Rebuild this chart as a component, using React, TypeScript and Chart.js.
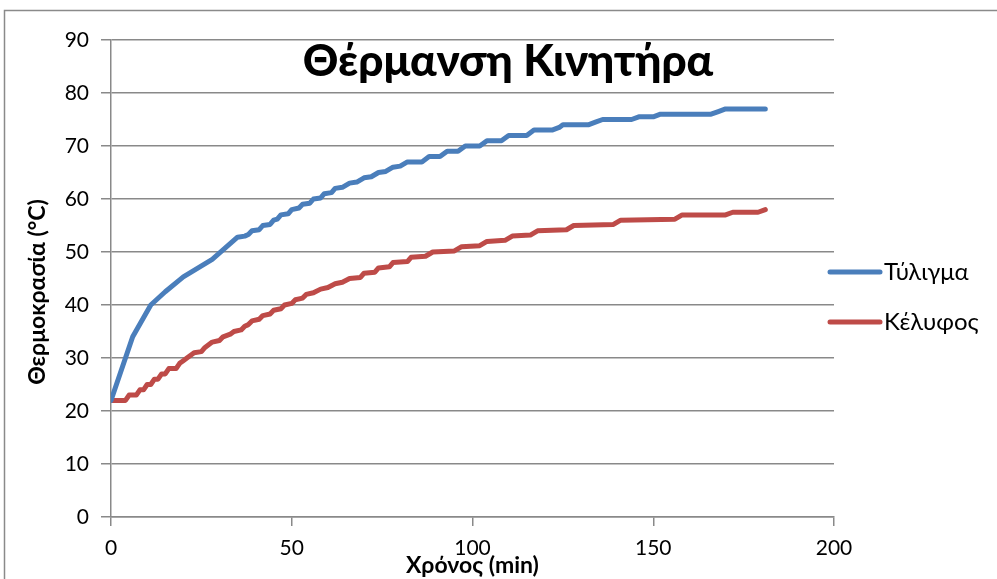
import { useEffect, useRef } from "react";
import { Chart, registerables } from "chart.js";

Chart.register(...registerables);

const CHART_TITLE = "Θέρμανση Κινητήρα";
const X_TITLE = "Χρόνος (min)";
const Y_TITLE = "Θερμοκρασία (°C)";
const SERIES_NAMES = ["Τύλιγμα", "Κέλυφος"];
const SERIES_COLORS = ["#4a7ebb", "#be4b48"];

const X_MIN = 0;
const X_MAX = 200;
const X_STEP = 50;
const Y_MIN = 0;
const Y_MAX = 90;
const Y_STEP = 10;

// Τύλιγμα (winding)
const WINDING_TIME = [
  0, 6, 11, 15, 20, 28, 35, 37, 38, 39, 41, 42, 44, 45, 46, 47, 49, 50, 52, 53,
  55, 56, 58, 59, 61, 62, 64, 66, 68, 70, 72, 74, 76, 78, 80, 82, 86, 88, 91, 93,
  96, 98, 102, 104, 108, 110, 115, 117, 122, 124, 125, 132, 134, 136, 144, 146,
  150, 152, 166, 168, 170, 181,
];
const WINDING_TEMP = [
  22, 34, 40, 42.5, 45.3, 48.6, 52.8, 53, 53.3, 54, 54.2, 55, 55.2, 56, 56.2, 57,
  57.2, 58, 58.3, 59, 59.2, 60, 60.2, 61, 61.2, 62, 62.2, 63, 63.2, 64, 64.2, 65,
  65.2, 66, 66.2, 67, 67, 68, 68, 69, 69, 70, 70, 71, 71, 72, 72, 73, 73, 73.5, 74,
  74, 74.5, 75, 75, 75.5, 75.5, 76, 76, 76.5, 77, 77,
];

// Κέλυφος (shell)
const SHELL_TIME = [
  0, 4, 5, 7, 8, 9, 10, 11, 12, 13, 14, 15, 16, 18, 19, 20, 21, 23, 25, 26, 27,
  28, 30, 31, 33, 34, 36, 37, 38, 39, 41, 42, 44, 45, 47, 48, 50, 51, 53, 54, 56,
  58, 60, 62, 64, 66, 69, 70, 73, 74, 77, 78, 82, 83, 87, 89, 95, 97, 102, 104,
  109, 111, 116, 118, 126, 128, 139, 141, 156, 158, 170, 172, 179, 181,
];
const SHELL_TEMP = [
  22, 22, 23, 23, 24, 24, 25, 25, 26, 26, 27, 27, 28, 28, 29, 29.5, 30, 31, 31.2,
  32, 32.5, 33, 33.3, 34, 34.5, 35, 35.3, 36, 36.3, 37, 37.3, 38, 38.3, 39, 39.3,
  40, 40.3, 41, 41.3, 42, 42.3, 43, 43.3, 44, 44.3, 45, 45.2, 46, 46.2, 47, 47.2,
  48, 48.2, 49, 49.2, 50, 50.2, 51, 51.2, 52, 52.2, 53, 53.2, 54, 54.2, 55, 55.2,
  56, 56.2, 57, 57, 57.5, 57.5, 58,
];

const FONT = "Lato, 'Liberation Sans', sans-serif";
const GRID = "#898989";

const toPoints = (xs: number[], ys: number[]) => xs.map((x, i) => ({ x, y: ys[i] }));

export default function App() {
  const ref = useRef<HTMLCanvasElement | null>(null);

  useEffect(() => {
    document.body.style.margin = "0";
    const canvas = ref.current;
    if (!canvas) return;

    const decor = {
      id: "decor",
      beforeDraw(chart: any) {
        const ctx = chart.ctx;
        ctx.save();
        ctx.fillStyle = "#ffffff";
        ctx.fillRect(0, 0, chart.width, chart.height);
        ctx.strokeStyle = "#8a8a8a";
        ctx.lineWidth = 1.5;
        ctx.strokeRect(4.5, 10.5, chart.width + 20, chart.height + 20);
        ctx.restore();
      },
      afterDraw(chart: any) {
        const ctx = chart.ctx;
        const area = chart.chartArea;
        ctx.save();
        // chart title
        ctx.fillStyle = "#000000";
        ctx.font = `900 44px ${FONT}`;
        ctx.textAlign = "center";
        ctx.textBaseline = "middle";
        ctx.fillText(CHART_TITLE, 508, 62);

        // axis titles
        ctx.font = `bold 23px ${FONT}`;
        ctx.fillText(X_TITLE, (area.left + area.right) / 2, 566);
        ctx.save();
        ctx.translate(38, 292);
        ctx.rotate(-Math.PI / 2);
        ctx.fillText(Y_TITLE, 0, 0);
        ctx.restore();

        // legend
        ctx.font = `24px ${FONT}`;
        ctx.textAlign = "left";
        chart.data.datasets.forEach((ds: any, i: number) => {
          const y = 272 + i * 50;
          ctx.strokeStyle = ds.borderColor;
          ctx.lineWidth = 5;
          ctx.lineCap = "round";
          ctx.beginPath();
          ctx.moveTo(830, y);
          ctx.lineTo(880, y);
          ctx.stroke();
          ctx.fillStyle = "#000000";
          ctx.fillText(ds.label, 884, y);
        });
        ctx.restore();
      },
    };

    const chart = new Chart(canvas, {
      type: "line",
      data: {
        datasets: [
          {
            label: SERIES_NAMES[0],
            data: toPoints(WINDING_TIME, WINDING_TEMP),
            borderColor: SERIES_COLORS[0],
            backgroundColor: SERIES_COLORS[0],
            borderWidth: 5,
            pointRadius: 0,
            tension: 0,
            borderCapStyle: "round",
            borderJoinStyle: "round",
          },
          {
            label: SERIES_NAMES[1],
            data: toPoints(SHELL_TIME, SHELL_TEMP),
            borderColor: SERIES_COLORS[1],
            backgroundColor: SERIES_COLORS[1],
            borderWidth: 5,
            pointRadius: 0,
            tension: 0,
            borderCapStyle: "round",
            borderJoinStyle: "round",
          },
        ],
      },
      options: {
        responsive: false,
        animation: false,
        layout: { padding: { left: 0, right: 997 - 834, top: 40, bottom: 0 } },
        plugins: {
          legend: { display: false },
          tooltip: { enabled: false },
          title: { display: false },
        },
        scales: {
          x: {
            type: "linear",
            min: X_MIN,
            max: X_MAX,
            ticks: {
              stepSize: X_STEP,
              color: "#000000",
              font: { family: FONT, size: 21 },
              padding: 10,
              maxRotation: 0,
            },
            grid: {
              drawOnChartArea: false,
              drawTicks: true,
              tickLength: 9,
              color: GRID,
              lineWidth: 1.5,
            },
            border: { display: true, color: GRID, width: 1.5 },
            afterFit: (scale: any) => {
              scale.height = 579 - 517;
            },
          },
          y: {
            type: "linear",
            min: Y_MIN,
            max: Y_MAX,
            ticks: {
              stepSize: Y_STEP,
              color: "#000000",
              font: { family: FONT, size: 21 },
              padding: 12,
            },
            grid: {
              drawTicks: true,
              tickLength: 10,
              color: GRID,
              lineWidth: 1.5,
            },
            border: { display: true, color: GRID, width: 1.5 },
            afterFit: (scale: any) => {
              scale.width = 111;
            },
          },
        },
      },
      plugins: [decor],
    });

    return () => chart.destroy();
  }, []);

  return (
    <div style={{ position: "absolute", left: 0, top: 0, width: 997, height: 579 }}>
      <canvas ref={ref} width={997} height={579} style={{ display: "block" }} />
    </div>
  );
}
